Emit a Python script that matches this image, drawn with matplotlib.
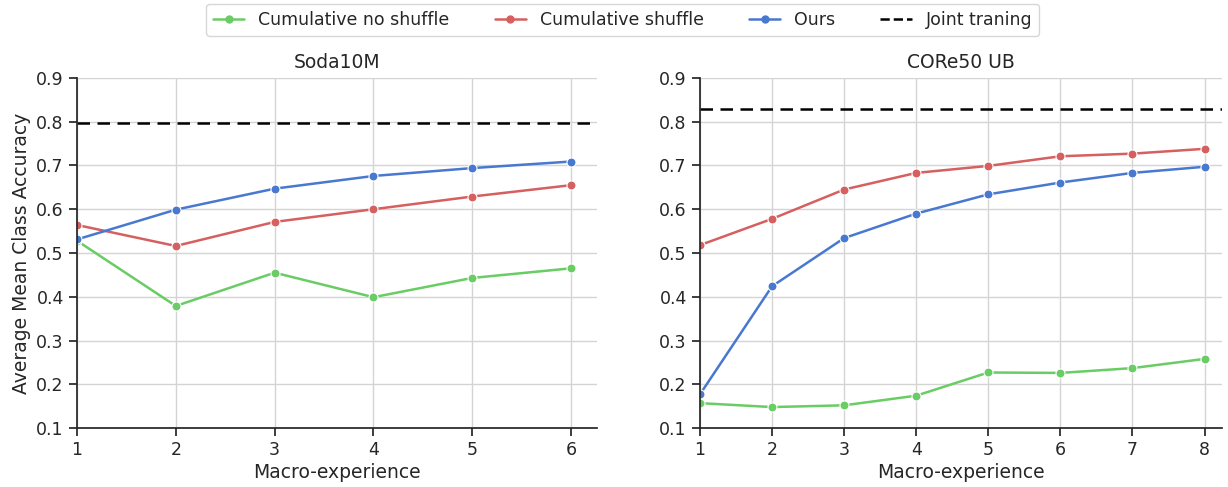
import matplotlib
matplotlib.use("Agg")
import matplotlib.pyplot as plt
import seaborn as sns
from matplotlib.lines import Line2D

# ── Data ─────────────────────────────────────────────────────────────────────
soda_x = [1, 2, 3, 4, 5, 6]
soda_noshuf = [0.528, 0.379, 0.455, 0.399, 0.443, 0.465]
soda_shuf = [0.564, 0.516, 0.571, 0.600, 0.629, 0.655]
soda_ours = [0.531, 0.599, 0.647, 0.676, 0.694, 0.709]
soda_joint = 0.797

core_x = [1, 2, 3, 4, 5, 6, 7, 8]
core_noshuf = [0.157, 0.148, 0.152, 0.174, 0.227, 0.226, 0.237, 0.258]
core_shuf = [0.518, 0.578, 0.645, 0.683, 0.699, 0.721, 0.727, 0.738]
core_ours = [0.177, 0.424, 0.534, 0.590, 0.634, 0.661, 0.683, 0.697]
core_joint = 0.830

labels = ["Cumulative no shuffle", "Cumulative shuffle", "Ours", "Joint traning"]

sns.set_theme(style="ticks", rc={"axes.grid": True, "grid.color": "#d4d4d4"})
plt.rcParams["font.family"] = ["DejaVu Sans"]
pal = sns.color_palette("muted")
C_GREEN, C_RED, C_BLUE = pal[2], pal[3], pal[0]

fig = plt.figure(figsize=(12.28, 4.87), dpi=100)
ax1 = fig.add_axes([0.0627, 0.121, 0.4233, 0.719])
ax2 = fig.add_axes([0.570, 0.121, 0.425, 0.719])


def panel(ax, x, noshuf, shuf, ours, joint, title, xmax):
    kw = dict(marker="o", markersize=6.5, lw=1.8, markeredgecolor="white", markeredgewidth=0.8)
    ax.plot(x, noshuf, color=C_GREEN, **kw)
    ax.plot(x, shuf, color=C_RED, **kw)
    ax.plot(x, ours, color=C_BLUE, **kw)
    ax.axhline(joint, color="black", ls="--", lw=1.8, dashes=(5, 3))
    ax.set_xlim(1, xmax)
    ax.set_ylim(0.1, 0.9)
    ax.set_xticks(x)
    ax.set_yticks([0.1, 0.2, 0.3, 0.4, 0.5, 0.6, 0.7, 0.8, 0.9])
    ax.set_title(title, fontsize=13.5, pad=7)
    ax.set_xlabel("Macro-experience", fontsize=13.5, labelpad=3)
    ax.tick_params(labelsize=12.5)
    sns.despine(ax=ax)


panel(ax1, soda_x, soda_noshuf, soda_shuf, soda_ours, soda_joint, "Soda10M", 6.26)
panel(ax2, core_x, core_noshuf, core_shuf, core_ours, core_joint, "CORe50 UB", 8.24)
ax1.set_ylabel("Average Mean Class Accuracy", fontsize=13.5, labelpad=4)

handles = [
    Line2D([], [], color=C_GREEN, marker="o", markersize=5, lw=1.8),
    Line2D([], [], color=C_RED, marker="o", markersize=5, lw=1.8),
    Line2D([], [], color=C_BLUE, marker="o", markersize=5, lw=1.8),
    Line2D([], [], color="black", ls="--", lw=1.8),
]
fig.legend(handles, labels, loc="upper center", ncol=4, fontsize=12.5,
           bbox_to_anchor=(0.507, 1.01), frameon=True, handlelength=1.8, columnspacing=2.6)

fig.savefig("out.png", dpi=100)
